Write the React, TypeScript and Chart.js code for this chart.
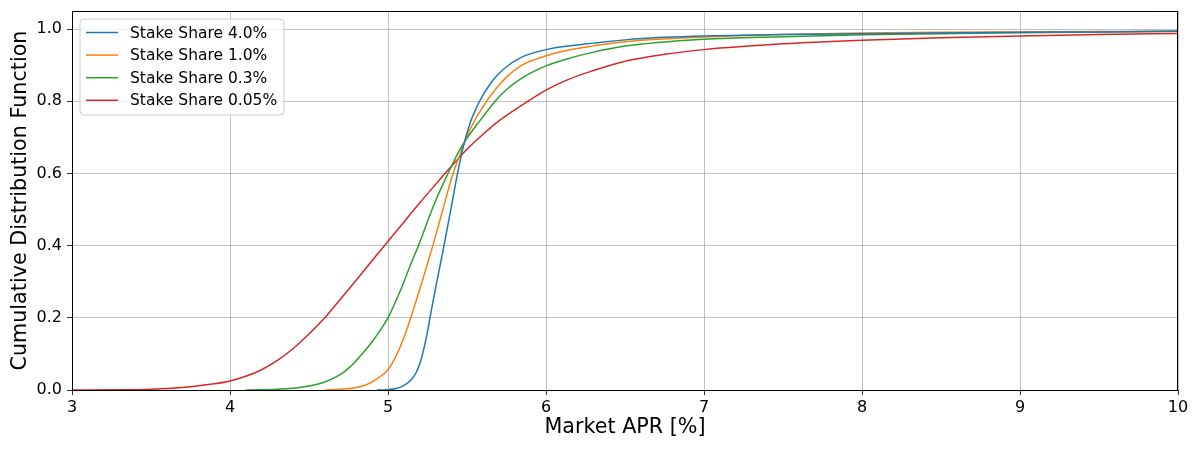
import React, { useEffect, useRef } from "react";
import { Chart, registerables } from "chart.js";

Chart.register(...registerables);

const seriesLabels = ["Stake Share 4.0%", "Stake Share 1.0%", "Stake Share 0.3%", "Stake Share 0.05%"];
const seriesColors = ["#1f77b4", "#ff7f0e", "#2ca02c", "#d62728"];
const xTickValues = [3, 4, 5, 6, 7, 8, 9, 10];
const yTickValues = [0, 0.2, 0.4, 0.6, 0.8, 1.0];

const share40X = [4.93, 5.0, 5.05, 5.1, 5.15, 5.18, 5.21, 5.24, 5.27, 5.3, 5.35, 5.4, 5.44, 5.48, 5.52, 5.56, 5.6, 5.65, 5.7, 5.76, 5.84, 5.92, 6.0, 6.1, 6.2, 6.3, 6.5, 6.75, 7.0, 7.5, 8.0, 8.5, 9.0, 9.5, 10.0];
const share40Y = [0, 0.001, 0.004, 0.012, 0.03, 0.05, 0.085, 0.14, 0.21, 0.28, 0.39, 0.505, 0.6, 0.68, 0.74, 0.782, 0.816, 0.85, 0.876, 0.899, 0.921, 0.934, 0.943, 0.951, 0.956, 0.961, 0.97, 0.977, 0.981, 0.985, 0.987, 0.989, 0.991, 0.992, 0.994];

const share10X = [4.6, 4.7, 4.8, 4.87, 4.93, 5.0, 5.05, 5.1, 5.15, 5.2, 5.25, 5.3, 5.35, 5.41, 5.46, 5.5, 5.55, 5.6, 5.65, 5.7, 5.76, 5.84, 5.92, 6.0, 6.1, 6.28, 6.5, 7.0, 7.5, 8.0, 8.5, 9.0, 9.5, 10.0];
const share10Y = [0, 0.002, 0.007, 0.016, 0.031, 0.056, 0.093, 0.145, 0.208, 0.278, 0.35, 0.425, 0.505, 0.597, 0.658, 0.703, 0.748, 0.784, 0.816, 0.843, 0.871, 0.898, 0.914, 0.926, 0.938, 0.952, 0.965, 0.978, 0.985, 0.989, 0.991, 0.992, 0.993, 0.994];

const share03X = [4.1, 4.3, 4.4, 4.5, 4.6, 4.7, 4.76, 4.82, 4.89, 4.95, 5.0, 5.08, 5.14, 5.2, 5.25, 5.3, 5.38, 5.46, 5.52, 5.58, 5.69, 5.76, 5.84, 5.92, 6.0, 6.1, 6.28, 6.5, 7.0, 7.5, 8.0, 8.5, 9.0, 9.5, 10.0];
const share03Y = [0, 0.002, 0.005, 0.011, 0.022, 0.043, 0.064, 0.092, 0.128, 0.165, 0.2, 0.277, 0.344, 0.408, 0.467, 0.523, 0.6, 0.67, 0.71, 0.745, 0.806, 0.836, 0.862, 0.882, 0.898, 0.913, 0.934, 0.953, 0.972, 0.979, 0.984, 0.987, 0.99, 0.992, 0.994];

const share005X = [3.0, 3.3, 3.5, 3.75, 3.9, 4.0, 4.1, 4.2, 4.3, 4.4, 4.5, 4.6, 4.7, 4.8, 4.9, 5.0, 5.1, 5.2, 5.3, 5.4, 5.5, 5.6, 5.7, 5.84, 6.0, 6.15, 6.3, 6.5, 6.75, 7.0, 7.5, 8.0, 8.5, 9.0, 9.5, 10.0];
const share005Y = [0, 0.0004, 0.002, 0.009, 0.017, 0.025, 0.038, 0.056, 0.082, 0.115, 0.155, 0.2, 0.252, 0.305, 0.359, 0.412, 0.465, 0.518, 0.569, 0.619, 0.667, 0.708, 0.745, 0.787, 0.831, 0.862, 0.885, 0.911, 0.93, 0.943, 0.959, 0.969, 0.976, 0.981, 0.985, 0.988];

const xSeries = [share40X, share10X, share03X, share005X];
const ySeries = [share40Y, share10Y, share03Y, share005Y];

const FONT = "'DejaVu Sans', sans-serif";

const framePlugin = {
  id: "frameAndLegend",
  afterDatasetsDraw(chart: any) {
    const { ctx, chartArea } = chart;
    const { left, right, top, bottom } = chartArea;
    ctx.save();
    ctx.strokeStyle = "#000000";
    ctx.lineWidth = 1;
    ctx.strokeRect(Math.round(left) + 0.5, Math.round(top) + 0.5, Math.round(right - left) - 1, Math.round(bottom - top));
    ctx.restore();

    // legend
    const bx = left + 8;
    const by = top + 8;
    const bw = 204;
    const bh = 96;
    ctx.save();
    ctx.beginPath();
    const r = 4;
    ctx.moveTo(bx + r, by);
    ctx.lineTo(bx + bw - r, by);
    ctx.quadraticCurveTo(bx + bw, by, bx + bw, by + r);
    ctx.lineTo(bx + bw, by + bh - r);
    ctx.quadraticCurveTo(bx + bw, by + bh, bx + bw - r, by + bh);
    ctx.lineTo(bx + r, by + bh);
    ctx.quadraticCurveTo(bx, by + bh, bx, by + bh - r);
    ctx.lineTo(bx, by + r);
    ctx.quadraticCurveTo(bx, by, bx + r, by);
    ctx.closePath();
    ctx.fillStyle = "rgba(255,255,255,0.8)";
    ctx.fill();
    ctx.strokeStyle = "#cccccc";
    ctx.lineWidth = 1;
    ctx.stroke();
    ctx.font = "15.5px " + FONT;
    ctx.textBaseline = "middle";
    ctx.textAlign = "left";
    chart.data.datasets.forEach((ds: any, i: number) => {
      const ly = by + 13.5 + i * 22.6;
      ctx.strokeStyle = ds.borderColor;
      ctx.lineWidth = 1.5;
      ctx.beginPath();
      ctx.moveTo(bx + 6, ly);
      ctx.lineTo(bx + 38, ly);
      ctx.stroke();
      ctx.fillStyle = "#000000";
      ctx.fillText(ds.label, bx + 50, ly + 1);
    });
    ctx.restore();
  },
};

export default function App() {
  const canvasRef = useRef<HTMLCanvasElement | null>(null);

  useEffect(() => {
    if (!canvasRef.current) return;
    const datasets = seriesLabels.map((label, i) => ({
      label,
      data: xSeries[i].map((x, j) => ({ x, y: ySeries[i][j] })),
      borderColor: seriesColors[i],
      backgroundColor: seriesColors[i],
      borderWidth: 1.5,
      pointRadius: 0,
      fill: false,
      cubicInterpolationMode: "monotone" as const,
    }));

    const chart = new Chart(canvasRef.current, {
      type: "line",
      data: { datasets },
      plugins: [framePlugin],
      options: {
        animation: false,
        responsive: false,
        maintainAspectRatio: false,
        layout: { padding: { left: 0, right: 22, top: 11, bottom: 0 } },
        plugins: { legend: { display: false }, tooltip: { enabled: false } },
        scales: {
          x: {
            type: "linear",
            min: 3,
            max: 10,
            afterBuildTicks: (scale: any) => {
              scale.ticks = xTickValues.map((v) => ({ value: v }));
            },
            afterFit: (scale: any) => {
              scale.height = 60;
              scale.paddingLeft = 0;
              scale.paddingRight = 0;
            },
            border: { display: false },
            grid: { color: "#b0b0b0", lineWidth: 0.8, tickColor: "#000000", tickLength: 5, drawTicks: true },
            ticks: {
              color: "#000000",
              font: { family: FONT, size: 16 },
              padding: 3,
              maxRotation: 0,
              callback: (v: any) => String(v),
            },
            title: {
              display: true,
              text: "Market APR [%]",
              color: "#000000",
              font: { family: FONT, size: 20.7 },
              padding: { top: 0, bottom: 10 },
            },
          },
          y: {
            type: "linear",
            min: 0,
            max: 1.05,
            afterBuildTicks: (scale: any) => {
              scale.ticks = yTickValues.map((v) => ({ value: v }));
            },
            afterFit: (scale: any) => {
              scale.width = 72;
              scale.paddingTop = 0;
              scale.paddingBottom = 0;
            },
            border: { display: false },
            grid: { color: "#b0b0b0", lineWidth: 0.8, tickColor: "#000000", tickLength: 5, drawTicks: true },
            ticks: {
              color: "#000000",
              font: { family: FONT, size: 16 },
              padding: 5,
              callback: (v: any) => Number(v).toFixed(1),
            },
            title: {
              display: true,
              text: "Cumulative Distribution Function",
              color: "#000000",
              font: { family: FONT, size: 20.7 },
              padding: { top: 8, bottom: 0 },
            },
          },
        },
      },
    });
    return () => chart.destroy();
  }, []);

  return (
    <div style={{ position: "absolute", left: 0, top: 0, width: 1200, height: 450, background: "#ffffff" }}>
      <canvas ref={canvasRef} width={1200} height={450} style={{ display: "block", width: 1200, height: 450 }} />
    </div>
  );
}
